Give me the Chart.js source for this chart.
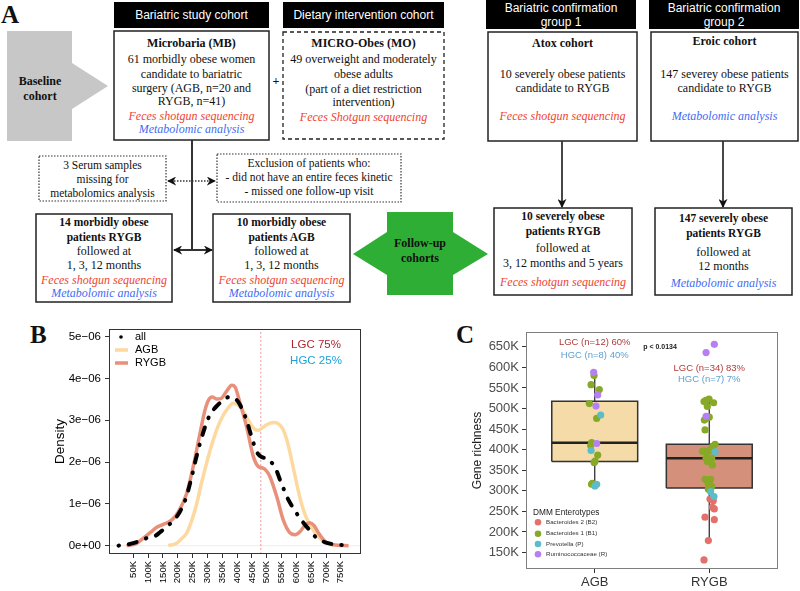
<!DOCTYPE html>
<html>
<head>
<meta charset="utf-8">
<script src="https://cdn.jsdelivr.net/npm/chart.js@4.4.1/dist/chart.umd.min.js"></script>
<style>
  body { margin: 0; width: 800px; height: 591px; background: #fff; position: relative; overflow: hidden; }
  #flow { position: absolute; left: 0; top: 0; }
  .panel { position: absolute; }
  #flow text { font-family: 'Liberation Serif', 'Times New Roman', serif; font-size: 12px; text-anchor: middle; dominant-baseline: central; fill: #111; }
  #flow .b { font-weight: bold; }
  #flow .r { font-style: italic; fill: #F0432F; }
  #flow .bl { font-style: italic; fill: #3F6CF2; }
  #flow .s { font-size: 11.5px; }
  #flow .h { font-family: 'Liberation Sans', Arial, sans-serif; font-size: 12px; fill: #fff; }
  #flow .big { font-weight: bold; font-size: 25px; text-anchor: start; dominant-baseline: alphabetic; }
</style>
</head>
<body>
<svg id="flow" width="800" height="591">
  <defs>
    <marker id="ah" viewBox="0 0 10 10" refX="9" refY="5" markerUnits="userSpaceOnUse" markerWidth="9" markerHeight="9" orient="auto-start-reverse">
      <path d="M0,0 L10,5 L0,10 L3,5 z" fill="#111"/>
    </marker>
  </defs>
  <text class="big" x="1" y="23">A</text>
  <text class="big" x="30" y="343">B</text>
  <text class="big" x="456" y="343">C</text>

  <!-- baseline arrow -->
  <polygon points="7,31 72,31 72,63 108,86 72,109 72,141 7,141" fill="#C7C7C7"/>
  <text class="b" x="40" y="81">Baseline</text>
  <text class="b" x="40" y="96">cohort</text>

  <!-- headers -->
  <rect x="114" y="2" width="155" height="26" fill="#000"/>
  <text class="h" x="191.5" y="15">Bariatric study cohort</text>
  <rect x="283" y="2" width="161" height="26" fill="#000"/>
  <text class="h" x="363.5" y="15">Dietary intervention cohort</text>
  <rect x="486" y="0" width="150" height="29" fill="#000"/>
  <text class="h" x="561" y="8">Bariatric confirmation</text>
  <text class="h" x="561" y="22">group 1</text>
  <rect x="649" y="0" width="150" height="29" fill="#000"/>
  <text class="h" x="724" y="8">Bariatric confirmation</text>
  <text class="h" x="724" y="22">group 2</text>

  <!-- MB -->
  <rect x="114" y="31" width="155" height="109" fill="none" stroke="#222" stroke-width="1.5"/>
  <text class="b" x="191.5" y="43">Microbaria (MB)</text>
  <text x="191.5" y="59">61 morbidly obese women</text>
  <text x="191.5" y="74">candidate to bariatric</text>
  <text x="191.5" y="88">surgery (AGB, n=20 and</text>
  <text x="191.5" y="101">RYGB, n=41)</text>
  <text class="r" x="191.5" y="116">Feces shotgun sequencing</text>
  <text class="bl" x="191.5" y="129">Metabolomic analysis</text>
  <text class="b" x="276" y="81">+</text>

  <!-- MO -->
  <rect x="283" y="32" width="161" height="107" fill="none" stroke="#222" stroke-width="1.3" stroke-dasharray="4,3"/>
  <text class="b" x="363.5" y="43">MICRO-Obes (MO)</text>
  <text x="363.5" y="59">49 overweight and moderately</text>
  <text x="363.5" y="74">obese adults</text>
  <text x="363.5" y="89">(part of a diet restriction</text>
  <text x="363.5" y="102">intervention)</text>
  <text class="r" x="363.5" y="117">Feces Shotgun sequencing</text>

  <!-- Atox -->
  <rect x="488" y="32" width="149" height="109" fill="none" stroke="#222" stroke-width="1.5"/>
  <text class="b" x="562.5" y="43">Atox cohort</text>
  <text x="562.5" y="74">10 severely obese patients</text>
  <text x="562.5" y="88">candidate to RYGB</text>
  <text class="r" x="562.5" y="116">Feces shotgun sequencing</text>

  <!-- Eroic -->
  <rect x="651" y="32" width="147" height="109" fill="none" stroke="#222" stroke-width="1.5"/>
  <text class="b" x="724.5" y="41">Eroic cohort</text>
  <text x="724.5" y="74">147 severey obese patients</text>
  <text x="724.5" y="88">candidate to RYGB</text>
  <text class="bl" x="724.5" y="116">Metabolomic analysis</text>

  <!-- connectors -->
  <line x1="192" y1="140" x2="192" y2="250" stroke="#333" stroke-width="2"/>
  <line x1="174" y1="250" x2="212" y2="250" stroke="#333" stroke-width="2" marker-start="url(#ah)" marker-end="url(#ah)"/>
  <line x1="168" y1="181" x2="215" y2="181" stroke="#333" stroke-width="1.5" stroke-dasharray="1.5,1.5" marker-start="url(#ah)" marker-end="url(#ah)"/>
  <line x1="562" y1="141" x2="562" y2="207" stroke="#333" stroke-width="1.8" marker-end="url(#ah)"/>
  <line x1="723" y1="141" x2="723" y2="207" stroke="#333" stroke-width="1.8" marker-end="url(#ah)"/>

  <!-- dotted notes -->
  <rect x="39" y="156" width="127" height="45" fill="none" stroke="#333" stroke-width="1.2" stroke-dasharray="1.5,1.5"/>
  <text class="s" x="102.5" y="165">3 Serum samples</text>
  <text class="s" x="102.5" y="179">missing for</text>
  <text class="s" x="102.5" y="193">metabolomics analysis</text>
  <rect x="217" y="154" width="184" height="48" fill="none" stroke="#333" stroke-width="1.2" stroke-dasharray="1.5,1.5"/>
  <text class="s" x="309" y="163">Exclusion of patients who:</text>
  <text class="s" x="309" y="177">- did not have an entire feces kinetic</text>
  <text class="s" x="309" y="191">- missed one follow-up visit</text>

  <!-- follow-up boxes -->
  <rect x="36" y="214" width="136" height="88" fill="none" stroke="#222" stroke-width="1.5"/>
  <text class="b s" x="104" y="222">14 morbidly obese</text>
  <text class="b s" x="104" y="237">patients RYGB</text>
  <text x="104" y="251">followed at</text>
  <text x="104" y="265">1, 3, 12 months</text>
  <text class="r" x="104" y="280">Feces shotgun sequencing</text>
  <text class="bl" x="104" y="293">Metabolomic analysis</text>

  <rect x="213" y="214" width="137" height="88" fill="none" stroke="#222" stroke-width="1.5"/>
  <text class="b s" x="281.5" y="222">10 morbidly obese</text>
  <text class="b s" x="281.5" y="237">patients AGB</text>
  <text x="281.5" y="251">followed at</text>
  <text x="281.5" y="265">1, 3, 12 months</text>
  <text class="r" x="281.5" y="280">Feces shotgun sequencing</text>
  <text class="bl" x="281.5" y="293">Metabolomic analysis</text>

  <polygon points="387,212 453,212 453,232 488,254 453,275 453,295 387,295 387,275 353,254 387,232" fill="#2EAE35"/>
  <text class="b" x="420" y="243">Follow-up</text>
  <text class="b" x="420" y="258">cohorts</text>

  <rect x="494" y="208" width="138" height="87" fill="none" stroke="#222" stroke-width="1.5"/>
  <text class="b s" x="563" y="216">10 severely obese</text>
  <text class="b s" x="563" y="231">patients RYGB</text>
  <text x="563" y="248">followed at</text>
  <text x="563" y="263">3, 12 months and 5 years</text>
  <text class="r" x="563" y="282">Feces shotgun sequencing</text>

  <rect x="655" y="208" width="137" height="87" fill="none" stroke="#222" stroke-width="1.5"/>
  <text class="b s" x="723.5" y="218">147 severely obese</text>
  <text class="b s" x="723.5" y="233">patients RYGB</text>
  <text x="723.5" y="252">followed at</text>
  <text x="723.5" y="266">12 months</text>
  <text class="bl" x="723.5" y="283">Metabolomic analysis</text>
</svg>

<div class="panel" style="left:46px;top:318px;width:329px;height:273px"><canvas id="densityChart"></canvas></div>
<div class="panel" style="left:460px;top:318px;width:340px;height:273px"><canvas id="richnessChart"></canvas></div>

<script>
// ---- panel B: gene richness density (x in K genes, y in 1e-6) ----
const allDensity = [[0,0],[25,0.02],[50,0.06],[75,0.12],[95,0.18],[110,0.21],[123,0.23],[140,0.32],[162,0.45],[185,0.6],[207,0.81],[228,1.15],[247,1.65],[262,2.1],[275,2.45],[290,2.8],[303,3.05],[320,3.25],[337,3.38],[355,3.5],[376,3.56],[390,3.53],[404,3.44],[418,3.25],[432,3.0],[449,2.6],[466,2.25],[483,2.12],[500,2.09],[512,2.02],[523,1.93],[534,1.78],[545,1.57],[557,1.36],[568,1.17],[585,0.95],[601,0.77],[618,0.6],[635,0.45],[650,0.33],[663,0.22],[680,0.14],[697,0.08],[720,0.04],[745,0.02],[773,0]];
const agbDensity = [[168,0],[196,0.06],[215,0.18],[230,0.3],[247,0.6],[264,1.01],[280,1.5],[297,1.97],[314,2.4],[331,2.77],[348,3.05],[365,3.25],[387,3.41],[410,3.33],[425,3.17],[438,3.0],[450,2.86],[461,2.78],[472,2.76],[483,2.81],[497,2.88],[511,2.93],[525,2.95],[534,2.94],[545,2.88],[556,2.77],[567,2.55],[579,2.21],[590,1.85],[601,1.49],[612,1.15],[624,0.85],[635,0.65],[647,0.49],[658,0.36],[669,0.26],[686,0.14],[703,0.06],[725,0]];
const rygbDensity = [[27,0],[60,0.05],[84,0.18],[110,0.33],[129,0.44],[151,0.51],[179,0.61],[202,0.81],[230,1.25],[252,1.89],[275,2.69],[292,3.25],[305,3.5],[316,3.56],[330,3.51],[345,3.52],[365,3.7],[382,3.84],[393,3.8],[410,3.41],[432,2.85],[455,2.13],[472,1.89],[489,1.85],[500,1.78],[511,1.65],[534,1.17],[556,0.61],[579,0.3],[596,0.26],[612,0.33],[630,0.5],[645,0.55],[660,0.48],[675,0.3],[697,0.1],[725,0.02],[776,0]];
const lgcCutoff = 480;
const xTicksB = [50,100,150,200,250,300,350,400,450,500,550,600,650,700,750];
const yTicksB = [0,1,2,3,4,5];
const yLabelsB = ['0e+00','1e\u221206','2e\u221206','3e\u221206','4e\u221206','5e\u221206'];
const xRangeB = [-32, 818];
const yRangeB = [-0.2, 5.185];

// ---- panel C: gene richness by surgery (K genes) ----
const catLabels = ['AGB', 'RYGB'];
const boxQ1 = [371, 307];
const boxMedian = [417, 379];
const boxQ3 = [518, 413];
const whiskerLow = [315, 179];
const whiskerHigh = [588, 523];
const b2Points = [[2.006,280],[2.035,276],[2.027,260],[2.044,256],[1.963,236],[2.044,230],[1.992,179],[1.954,132]];
const b1Points = [[0.994,580],[0.968,558],[1.04,546],[0.953,512],[1.017,476],[0.973,417],[0.965,410],[1.026,387],[1.003,372],[0.995,369],[0.979,318],[0.972,316],
  [1.954,517],[1.998,523],[2.038,514],[1.983,505],[1.970,520],[1.977,476],[2.0,479],[1.957,472],[1.963,448],[2.05,413],[2.03,408],[1.957,397],[2.012,400],[1.977,393],[1.94,396],[2.0,397],[1.972,379],[2.021,379],[2.027,363],[1.983,371],[1.963,328],[2.012,328],[1.985,326],[1.99,318],[2.021,310],[1.992,304],[2.005,314]];
const pPoints = [[1.052,484],[0.968,398],[1.017,316],[1.002,312],[2.05,395],[2.012,298],[2.041,286]];
const rPoints = [[0.991,588],[1.026,533],[1.011,506],[1.017,415],[2.044,656],[1.972,636],[1.972,481]];
const yTicksC = [150,200,250,300,350,400,450,500,550,600,650];

const xy = arr => arr.map(([x, y]) => ({ x, y }));
const sans = 'Liberation Sans, Arial, sans-serif';

const frame = color => ({
  id: 'frame',
  afterDatasetsDraw(chart) {
    const { ctx, chartArea: a } = chart;
    ctx.save();
    ctx.strokeStyle = color;
    ctx.lineWidth = 1;
    ctx.strokeRect(a.left + 0.5, a.top + 0.5, a.width - 1, a.height - 1);
    ctx.restore();
  }
});

const densityNotes = {
  id: 'densityNotes',
  afterDraw(chart) {
    const { ctx, chartArea: a } = chart;
    ctx.save();
    ctx.font = '11px ' + sans;
    ctx.textBaseline = 'middle';
    ctx.fillStyle = '#000';
    ctx.beginPath(); ctx.arc(a.left + 12, a.top + 8, 1.8, 0, Math.PI * 2); ctx.fill();
    ctx.lineWidth = 3.5;
    ctx.strokeStyle = '#FDD9A0';
    ctx.beginPath(); ctx.moveTo(a.left + 6, a.top + 21); ctx.lineTo(a.left + 19, a.top + 21); ctx.stroke();
    ctx.strokeStyle = '#E8907A';
    ctx.beginPath(); ctx.moveTo(a.left + 6, a.top + 34); ctx.lineTo(a.left + 19, a.top + 34); ctx.stroke();
    ctx.fillText('all', a.left + 26, a.top + 8);
    ctx.fillText('AGB', a.left + 26, a.top + 21);
    ctx.fillText('RYGB', a.left + 26, a.top + 34);
    ctx.font = '11.5px ' + sans;
    ctx.textAlign = 'center';
    ctx.fillStyle = '#B3232F';
    ctx.fillText('LGC 75%', a.left + 207, a.top + 16);
    ctx.fillStyle = '#1FA2DA';
    ctx.fillText('HGC 25%', a.left + 207, a.top + 32);
    ctx.restore();
  }
};

const lineSet = (arr, color, width, order, extra) => Object.assign({
  data: xy(arr), showLine: true, pointRadius: 0, borderColor: color, borderWidth: width,
  cubicInterpolationMode: 'monotone', order
}, extra || {});

new Chart(document.getElementById('densityChart'), {
  type: 'scatter',
  data: {
    datasets: [
      lineSet([[xRangeB[0], 0], [xRangeB[1], 0]], '#EDEDED', 1, 6, { cubicInterpolationMode: 'default' }),
      lineSet([[lgcCutoff, yRangeB[0]], [lgcCutoff, yRangeB[1]]], '#F49A9A', 1, 5, { borderDash: [2, 2] }),
      lineSet(agbDensity, '#FDD9A0', 3.5, 4),
      lineSet(rygbDensity, '#E8907A', 3.5, 3),
      lineSet(allDensity, '#000', 4, 2, { borderDash: [0.5, 10, 8, 10], borderCapStyle: 'round' })
    ]
  },
  options: {
    responsive: true,
    maintainAspectRatio: false,
    animation: false,
    layout: { padding: { top: 11, right: 14, left: 0, bottom: 0 } },
    plugins: { legend: { display: false }, tooltip: { enabled: false } },
    scales: {
      x: {
        type: 'linear', min: xRangeB[0], max: xRangeB[1],
        afterBuildTicks: s => { s.ticks = xTicksB.map(v => ({ value: v })); },
        afterFit: s => { s.height = 37; },
        ticks: { autoSkip: false, minRotation: 90, maxRotation: 90, padding: 3, color: '#000',
          font: { family: sans, size: 9.5 }, callback: v => v + 'K' },
        grid: { drawOnChartArea: false, drawTicks: true, tickLength: 4, color: '#333' },
        border: { display: false }
      },
      y: {
        min: yRangeB[0], max: yRangeB[1],
        afterBuildTicks: s => { s.ticks = yTicksB.map(v => ({ value: v })); },
        afterFit: s => { s.width = 63; },
        ticks: { padding: 4, color: '#000', font: { family: sans, size: 11.5 },
          callback: v => yLabelsB[yTicksB.indexOf(v)] },
        title: { display: true, text: 'Density', color: '#000', font: { family: sans, size: 13.5 }, padding: { top: 6, bottom: 0 } },
        grid: { drawOnChartArea: false, drawTicks: true, tickLength: 4, color: '#333' },
        border: { display: false }
      }
    }
  },
  plugins: [frame('#333'), densityNotes]
});

// ---- panel C ----
const boxHalf = 0.375;
const boxSets = [];
const boxFills = ['#F5DBA8', '#D4907A'];
catLabels.forEach((name, i) => {
  const c = i + 1;
  boxSets.push(lineSet([[c - boxHalf, boxQ1[i]], [c - boxHalf, boxQ3[i]], [c + boxHalf, boxQ3[i]], [c + boxHalf, boxQ1[i]], [c - boxHalf, boxQ1[i]]],
    '#333', 1.5, 20, { fill: 'shape', backgroundColor: boxFills[i], cubicInterpolationMode: 'default' }));
  boxSets.push(lineSet([[c, boxQ3[i]], [c, whiskerHigh[i]]], '#333', 1.3, 19, { cubicInterpolationMode: 'default' }));
  boxSets.push(lineSet([[c, whiskerLow[i]], [c, boxQ1[i]]], '#333', 1.3, 19, { cubicInterpolationMode: 'default' }));
  boxSets.push(lineSet([[c - boxHalf, boxMedian[i]], [c + boxHalf, boxMedian[i]]], '#222', 2.5, 18, { cubicInterpolationMode: 'default' }));
});

const enterotypes = [
  { label: 'Bacteroides 2 (B2)', pts: b2Points, color: '#E2716A' },
  { label: 'Bacteroides 1 (B1)', pts: b1Points, color: '#88A827' },
  { label: 'Prevotella (P)', pts: pPoints, color: '#5CBCC7' },
  { label: 'Ruminococcaceae (R)', pts: rPoints, color: '#B67FF3' }
];
const pointSets = enterotypes.map((e, i) => ({
  label: e.label, data: xy(e.pts), pointRadius: 3.6, pointBorderWidth: 0,
  pointBackgroundColor: e.color, backgroundColor: e.color, showLine: false, order: 4 - i
}));

const richnessNotes = {
  id: 'richnessNotes',
  afterDraw(chart) {
    const { ctx, chartArea: a, scales } = chart;
    const x1 = scales.x.getPixelForValue(1), x2 = scales.x.getPixelForValue(2);
    ctx.save();
    ctx.textAlign = 'center';
    ctx.textBaseline = 'middle';
    ctx.font = '9.5px ' + sans;
    ctx.fillStyle = '#B23A3A';
    ctx.fillText('LGC (n=12) 60%', x1, a.top + 10);
    ctx.fillText('LGC (n=34) 83%', x2, a.top + 36);
    ctx.fillStyle = '#5D9FD2';
    ctx.fillText('HGC (n=8) 40%', x1, a.top + 23);
    ctx.fillText('HGC (n=7) 7%', x2, a.top + 47);
    ctx.fillStyle = '#222';
    ctx.font = 'bold 7px ' + sans;
    ctx.fillText('p < 0.0134', scales.x.getPixelForValue(1.57), a.top + 15);
    ctx.textAlign = 'left';
    ctx.font = '8.3px ' + sans;
    ctx.fillText('DMM Enterotypes', a.left + 7, a.top + 181);
    ctx.font = '6.2px ' + sans;
    const ys = [190.3, 201.7, 212, 222.3];
    enterotypes.forEach((e, i) => {
      ctx.fillStyle = e.color;
      ctx.beginPath(); ctx.arc(a.left + 12, a.top + ys[i], 3.3, 0, Math.PI * 2); ctx.fill();
      ctx.fillStyle = '#333';
      ctx.fillText(e.label, a.left + 20, a.top + ys[i]);
    });
    ctx.restore();
  }
};

new Chart(document.getElementById('richnessChart'), {
  type: 'scatter',
  data: { datasets: boxSets.concat(pointSets) },
  options: {
    responsive: true,
    maintainAspectRatio: false,
    animation: false,
    layout: { padding: { top: 14, right: 22, left: 0, bottom: 0 } },
    plugins: { legend: { display: false }, tooltip: { enabled: false } },
    scales: {
      x: {
        type: 'linear', min: 0.4, max: 2.6,
        afterBuildTicks: s => { s.ticks = catLabels.map((n, i) => ({ value: i + 1 })); },
        afterFit: s => { s.height = 22; },
        ticks: { padding: 2, color: '#333', font: { family: sans, size: 13 }, callback: v => catLabels[v - 1] },
        grid: { drawOnChartArea: false, drawTicks: true, tickLength: 4, color: '#333' },
        border: { display: false }
      },
      y: {
        min: 110, max: 686,
        afterBuildTicks: s => { s.ticks = yTicksC.map(v => ({ value: v })); },
        afterFit: s => { s.width = 66; },
        ticks: { padding: 3, color: '#4D4D4D', font: { family: sans, size: 13 }, callback: v => v + 'K' },
        title: { display: true, text: 'Gene richness', color: '#222', font: { family: sans, size: 12 }, padding: { top: 10, bottom: 0 } },
        grid: { drawOnChartArea: false, drawTicks: true, tickLength: 4, color: '#333' },
        border: { display: false }
      }
    }
  },
  plugins: [frame('#7F7F7F'), richnessNotes]
});
</script>
</body>
</html>
